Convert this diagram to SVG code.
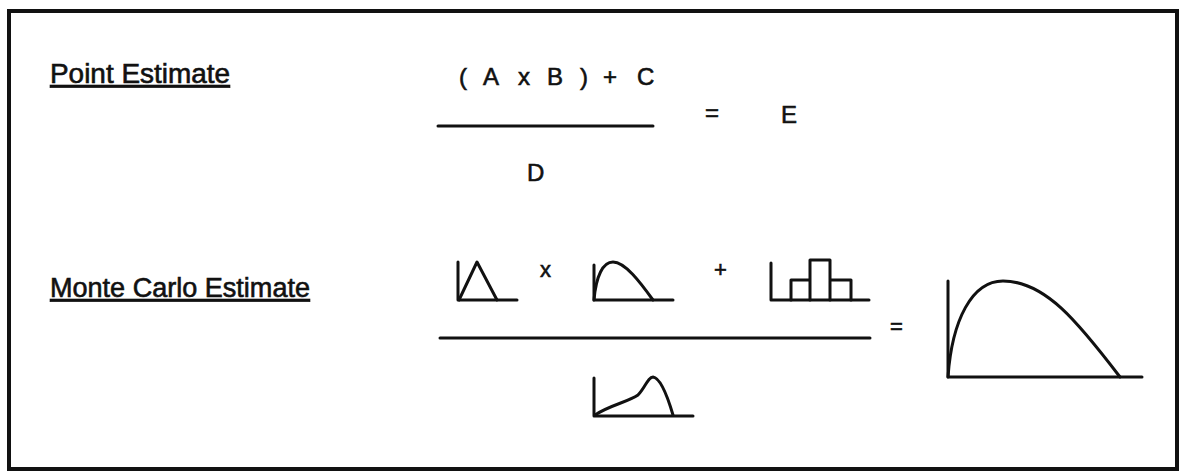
<svg xmlns="http://www.w3.org/2000/svg" width="1182" height="472" viewBox="0 0 1182 472">
  <style>
    .lbl { font-family: "Liberation Sans", Arial, sans-serif; font-size: 27px; fill: #111; stroke: #111; stroke-width: 0.6px; text-decoration: underline; }
    .f { font-family: "Liberation Sans", Arial, sans-serif; font-size: 24px; fill: #111; stroke: #111; stroke-width: 0.6px; }
    .op { font-family: "Liberation Sans", Arial, sans-serif; font-size: 22px; fill: #111; stroke: #111; stroke-width: 0.6px; }
    .ln { stroke: #111; stroke-width: 3; fill: none; stroke-linecap: round; stroke-linejoin: round; }
  </style>
  <rect width="1182" height="472" fill="#ffffff"/>
  <g id="frame">
    <rect x="9" y="11" width="1168" height="458" fill="none" stroke="#111" stroke-width="4"/>
  </g>
  <g id="point-estimate-label">
    <text class="lbl" x="50" y="83" textLength="180" lengthAdjust="spacingAndGlyphs">Point Estimate</text>
  </g>
  <g id="point-estimate-formula">
    <text class="f" x="459" y="85">(</text>
    <text class="f" x="483" y="85">A</text>
    <text class="f" x="518" y="85">x</text>
    <text class="f" x="547" y="85">B</text>
    <text class="f" x="580" y="85">)</text>
    <text class="f" x="603" y="85">+</text>
    <text class="f" x="637" y="85">C</text>
    <line class="ln" x1="438" y1="126" x2="653" y2="126" stroke-width="2.5"/>
    <text class="f" x="527" y="181">D</text>
    <text class="f" x="705" y="121">=</text>
    <text class="f" x="781" y="123" font-size="26">E</text>
  </g>
  <g id="monte-carlo-label">
    <text class="lbl" x="50" y="297" textLength="260" lengthAdjust="spacingAndGlyphs">Monte Carlo Estimate</text>
  </g>
  <g id="dist-a">
    <path class="ln" d="M458,262 L458,300 L517,300"/>
    <path class="ln" d="M459,300 L477,262 L497,300"/>
  </g>
  <text class="op" x="540" y="277">x</text>
  <g id="dist-b">
    <path class="ln" d="M594,265 L594,300 L673,300"/>
    <path class="ln" d="M594,300 C596,276 603,262 613,262 C625,262 640,282 653,300"/>
  </g>
  <text class="op" x="714" y="277">+</text>
  <g id="dist-c">
    <path class="ln" d="M771,263 L771,300 L869,300"/>
    <path class="ln" d="M791,300 L791,280 L810,280 L810,300 M810,280 L810,260 L830,260 L830,300 M830,280 L851,280 L851,300"/>
  </g>
  <g id="connectors">
    <line class="ln" x1="440" y1="338" x2="870" y2="338"/>
  </g>
  <g id="dist-d">
    <path class="ln" d="M594,378 L594,416 L693,416"/>
    <path class="ln" d="M595,415 C610,405 628,402 638,395 C645,388 648,377 653,377 C661,378 668,398 673,415"/>
  </g>
  <text class="op" x="890" y="334">=</text>
  <g id="dist-result">
    <path class="ln" d="M948,281 L948,377 L1142,377"/>
    <path class="ln" d="M948,377 C952,320 972,281 1003,281 C1045,281 1078,322 1120,377"/>
  </g>
</svg>
